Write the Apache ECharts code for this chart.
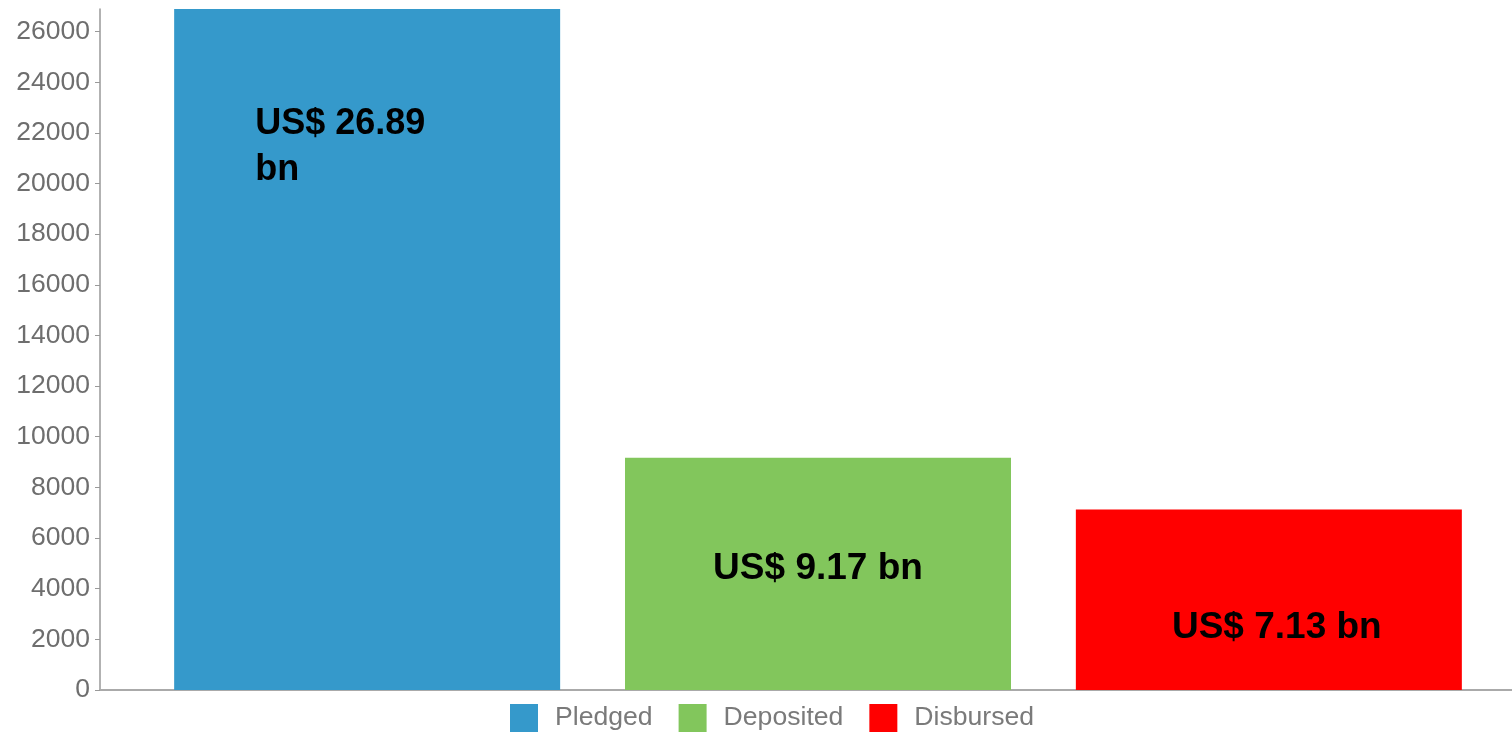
<!DOCTYPE html>
<html>
<head>
<meta charset="utf-8">
<script src="https://cdn.jsdelivr.net/npm/echarts@6/dist/echarts.min.js"></script>
<style>
  html, body { margin: 0; padding: 0; background: #fff; }
  #chart { width: 1512px; height: 735px; }
</style>
</head>
<body>
<div id="chart"></div>
<script>
// data (values in US$ millions)
const seriesNames = ['Pledged', 'Deposited', 'Disbursed'];
const seriesValues = [26890, 9170, 7130];
const labelTexts = ['US$ 26.89\nbn', 'US$ 9.17 bn', 'US$ 7.13 bn'];
const categories = ['Funds'];

const colors = ['#3599cb', '#82c65c', '#ff0000'];
// where each label sits in its bar
const labelPlaces = [
  { position: [81, 92], align: 'left', verticalAlign: 'top', fontSize: 36 },
  { position: 'inside', offset: [0, -5], fontSize: 37 },
  { position: 'inside', offset: [8, 28], fontSize: 37 },
];

const chart = echarts.init(document.getElementById('chart'));

const option = {
  animation: false,
  color: colors,
  legend: {
    data: seriesNames,
    bottom: -2,
    left: 505,
    itemWidth: 28,
    itemHeight: 28,
    itemGap: 26,
    icon: 'rect',
    textStyle: {
      color: '#7a7a7a',
      fontSize: 26.6,
      fontFamily: 'Liberation Sans',
      padding: [0, 0, 0, 12],
    },
  },
  // plot runs past the right edge of the picture
  grid: {
    left: 100,
    width: 1436,
    top: 9,
    bottom: 45,
    containLabel: false,
    outerBoundsMode: 'none',
  },
  xAxis: {
    type: 'category',
    data: categories,
    axisLine: { lineStyle: { color: '#aaaaaa', width: 2 } },
    axisTick: { show: false },
    axisLabel: { show: false },
  },
  yAxis: {
    type: 'value',
    min: 0,
    max: 26890,
    interval: 2000,
    splitLine: { show: false },
    axisLine: { show: true, lineStyle: { color: '#999999', width: 1.5 } },
    axisTick: { show: true, length: 5, lineStyle: { color: '#999999' } },
    axisLabel: {
      color: '#6e6e6e',
      fontSize: 26.5,
      fontFamily: 'Liberation Sans',
      margin: 10,
      showMaxLabel: false,
      formatter: v => (v % 2000 === 0 ? String(v) : ''),
    },
  },
  series: seriesNames.map((name, i) => ({
    name,
    type: 'bar',
    barWidth: 386,
    barGap: '16.8%',
    data: [seriesValues[i]],
    label: Object.assign({
      show: true,
      formatter: labelTexts[i],
      color: '#000',
      fontWeight: 'bold',
      fontFamily: 'Liberation Sans',
      lineHeight: 46,
    }, labelPlaces[i]),
  })),
};

chart.setOption(option);
</script>
</body>
</html>
